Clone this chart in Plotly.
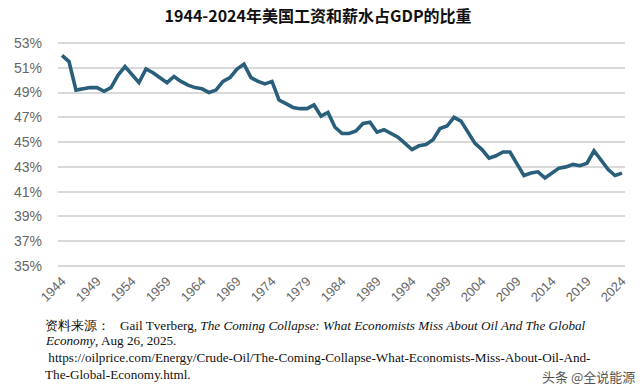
import plotly.graph_objects as go

years = list(range(1944, 2025))
share = [
    52.0, 51.5, 49.2, 49.3, 49.4, 49.4, 49.1, 49.4, 50.4, 51.1,  # 1944-1953
    50.5, 49.8, 50.9, 50.6, 50.2, 49.8, 50.3, 49.9, 49.6, 49.4,  # 1954-1963
    49.3, 49.0, 49.2, 49.9, 50.2, 50.9, 51.3, 50.2, 49.9, 49.7,  # 1964-1973
    49.9, 48.4, 48.1, 47.8, 47.7, 47.7, 48.0, 47.1, 47.4, 46.2,  # 1974-1983
    45.7, 45.7, 45.9, 46.5, 46.6, 45.8, 46.0, 45.7, 45.4, 44.9,  # 1984-1993
    44.4, 44.7, 44.8, 45.2, 46.1, 46.3, 47.0, 46.7, 45.8, 44.9,  # 1994-2003
    44.4, 43.7, 43.9, 44.2, 44.2, 43.2, 42.3, 42.5, 42.6, 42.1,  # 2004-2013
    42.5, 42.9, 43.0, 43.2, 43.1, 43.3, 44.3, 43.6, 42.8, 42.3,  # 2014-2023
    42.5,                                                        # 2024
]
x_ticks = list(range(1944, 2025, 5))
y_ticks = list(range(35, 54, 2))

title_text = "1944-2024年美国工资和薪水占GDP的比重"
source_lines = [
    "资料来源：   Gail Tverberg, <i>The Coming Collapse: What Economists Miss About Oil And The Global</i>",
    "<i>Economy</i>, Aug 26, 2025.",
    " https://oilprice.com/Energy/Crude-Oil/The-Coming-Collapse-What-Economists-Miss-About-Oil-And-",
    "The-Global-Economy.html.",
]
watermark = "头条 @全说能源"

fig = go.Figure()
fig.add_trace(go.Scatter(
    x=years, y=share, mode="lines",
    line=dict(color="#2a5f7b", width=3.6),
    hoverinfo="skip",
))

L, R, T, B = 58, 15, 38, 122
W, H = 640, 392
pw, ph = W - L - R, H - T - B

def px_to_paper_x(px):
    return (px - L) / pw

def px_to_paper_y(py):
    return (H - B - py) / ph

serif = "'Liberation Serif', 'Times New Roman', serif"
annotations = []
line_y = [325, 341, 357, 374]
for txt, yy in zip(source_lines, line_y):
    annotations.append(dict(
        text=txt, x=px_to_paper_x(43), y=px_to_paper_y(yy),
        xref="paper", yref="paper", xanchor="left", yanchor="middle",
        showarrow=False, align="left",
        font=dict(family=serif, size=13.2, color="#111111"),
    ))
annotations.append(dict(
    text=watermark, x=px_to_paper_x(637), y=px_to_paper_y(376),
    xref="paper", yref="paper", xanchor="right", yanchor="middle",
    showarrow=False,
    font=dict(family="Noto Sans CJK SC", size=13, color="#555555"),
))

fig.update_layout(
    width=W, height=H,
    margin=dict(l=L, r=R, t=T, b=B, pad=0),
    paper_bgcolor="white", plot_bgcolor="white",
    showlegend=False,
    title=dict(
        text="<b>" + title_text + "</b>",
        x=0.497, xref="container", xanchor="center",
        y=1 - 16 / H, yref="container", yanchor="middle",
        font=dict(family="Noto Sans CJK SC", size=16, color="#111111"),
    ),
    xaxis=dict(
        range=[1944 - 4 / 7, 2024 + 3 / 7],
        tickmode="array", tickvals=x_ticks, ticktext=[str(v) for v in x_ticks],
        tickangle=-45, showgrid=False, zeroline=False, showline=False,
        tickfont=dict(family="Liberation Sans, Arial", size=13, color="#666666"),
        ticks="", automargin=False,
    ),
    yaxis=dict(
        range=[35 - 4 / 12.39, 53 + 5 / 12.39],
        tickmode="array", tickvals=y_ticks, ticktext=[f"{v}%" for v in y_ticks],
        showgrid=True, gridcolor="#d9d9d9", gridwidth=1.5,
        zeroline=False, showline=False, ticks="", automargin=False,
        ticklabelstandoff=15,
        tickfont=dict(family="Liberation Sans, Arial", size=14, color="#666666"),
    ),
    annotations=annotations,
)

fig.write_html(
    "out.html",
    config={"displayModeBar": False},
    post_script="document.body.style.margin='0';document.body.style.overflow='hidden';",
)
